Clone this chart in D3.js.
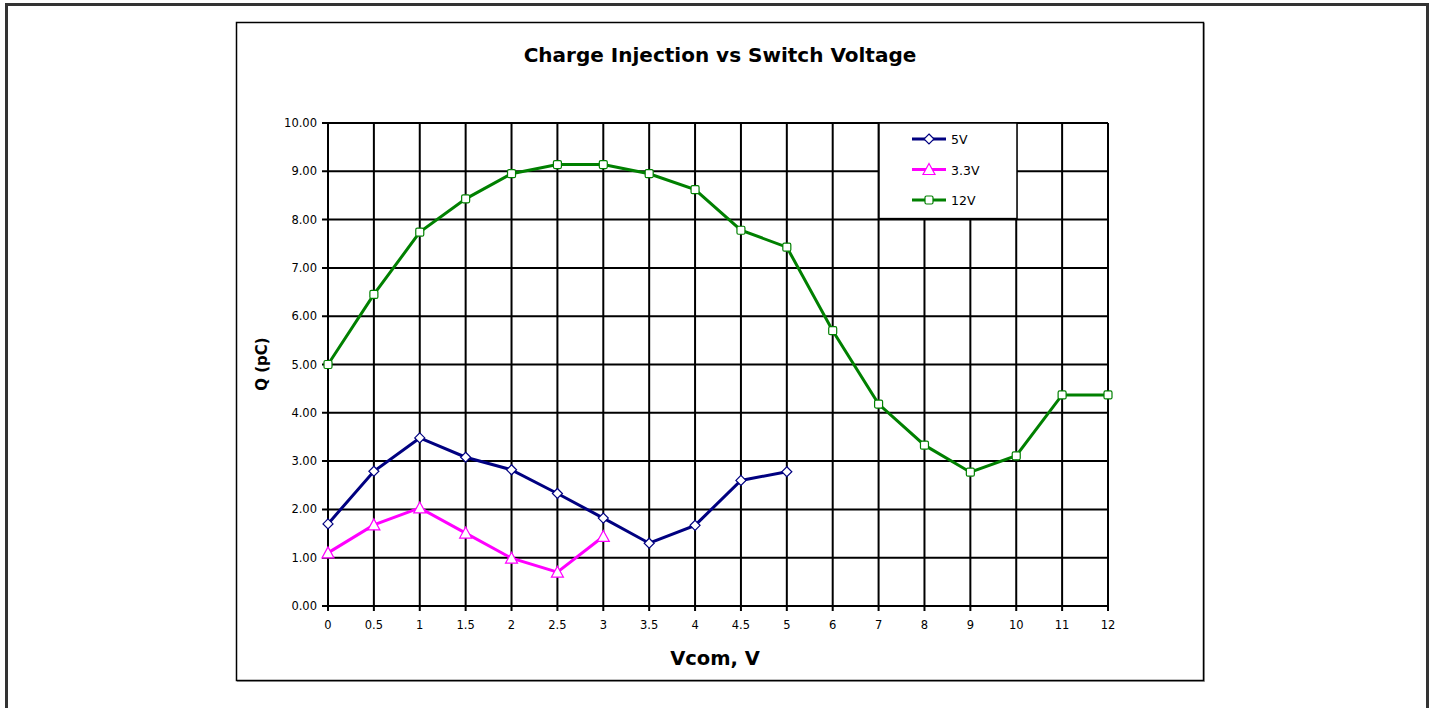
<!DOCTYPE html>
<html>
<head>
<meta charset="utf-8">
<script src="https://cdnjs.cloudflare.com/ajax/libs/d3/7.8.5/d3.min.js"></script>
<style>
  body { margin: 0; background: #fff; }
  svg { display: block; font-family: "DejaVu Sans", Verdana, sans-serif; }
</style>
</head>
<body>
<script>
// x categories (evenly spaced, not linear)
const categories = ["0", "0.5", "1", "1.5", "2", "2.5", "3", "3.5", "4", "4.5", "5",
                    "6", "7", "8", "9", "10", "11", "12"];
const yTicks = [0, 1, 2, 3, 4, 5, 6, 7, 8, 9, 10];

const v5   = [1.70, 2.79, 3.48, 3.08, 2.82, 2.33, 1.82, 1.30, 1.67, 2.60, 2.78];
const v3_3 = [1.10, 1.68, 2.03, 1.51, 0.99, 0.70, 1.44];
const v12  = [5.00, 6.45, 7.74, 8.43, 8.95, 9.14, 9.14, 8.95, 8.62, 7.78, 7.43,
              5.70, 4.18, 3.33, 2.77, 3.11, 4.37, 4.37];

const series = [
  { name: "5V",   values: v5,   color: "#000080", marker: "diamond" },
  { name: "3.3V", values: v3_3, color: "#ff00ff", marker: "triangle" },
  { name: "12V",  values: v12,  color: "#008000", marker: "square" }
];

const W = 1432, H = 708;
const plot = { left: 328, right: 1108, top: 123, bottom: 606 };

const svg = d3.select("body").append("svg")
  .attr("width", W).attr("height", H);

// outer frame
svg.append("rect")
  .attr("x", 6.5).attr("y", 4.5).attr("width", 1421).attr("height", 720)
  .attr("fill", "none").attr("stroke", "#333").attr("stroke-width", 3);

// chart box
svg.append("rect")
  .attr("x", 237.5).attr("y", 23.5).attr("width", 967).attr("height", 658)
  .attr("fill", "none").attr("stroke", "#aaa").attr("stroke-width", 1);
svg.append("rect")
  .attr("x", 236.5).attr("y", 22.5).attr("width", 967).attr("height", 658)
  .attr("fill", "#fff").attr("stroke", "#000").attr("stroke-width", 1.5);

const x = d3.scalePoint().domain(categories).range([plot.left, plot.right]);
const y = d3.scaleLinear().domain([0, 10]).range([plot.bottom, plot.top]);

// grid
const grid = svg.append("g").attr("stroke", "#000").attr("stroke-width", 2);
grid.selectAll(".v").data(categories).enter().append("line")
  .attr("x1", d => x(d)).attr("x2", d => x(d))
  .attr("y1", plot.top).attr("y2", plot.bottom + 5);
grid.selectAll(".h").data(yTicks).enter().append("line")
  .attr("x1", plot.left - 6).attr("x2", plot.right)
  .attr("y1", d => y(d)).attr("y2", d => y(d));

// y tick labels
svg.append("g").selectAll("text").data(yTicks).enter().append("text")
  .attr("x", plot.left - 11).attr("y", d => y(d) + 4)
  .attr("text-anchor", "end")
  .attr("font-size", 11.5)
  .text(d => d.toFixed(2));

// x tick labels
svg.append("g").selectAll("text").data(categories).enter().append("text")
  .attr("x", d => x(d)).attr("y", plot.bottom + 23)
  .attr("text-anchor", "middle")
  .attr("font-size", 11.5)
  .text(d => d);

// titles
svg.append("text")
  .attr("x", 720).attr("y", 62)
  .attr("text-anchor", "middle").attr("font-weight", "bold").attr("font-size", 20)
  .text("Charge Injection vs Switch Voltage");

svg.append("text")
  .attr("x", 715).attr("y", 665)
  .attr("text-anchor", "middle").attr("font-weight", "bold").attr("font-size", 19.5)
  .text("Vcom, V");

svg.append("text")
  .attr("transform", "translate(267,364) rotate(-90)")
  .attr("text-anchor", "middle").attr("font-weight", "bold").attr("font-size", 15)
  .text("Q (pC)");

// markers
function drawMarker(g, type, color) {
  if (type === "diamond") {
    g.append("path").attr("d", "M0,-5L5,0L0,5L-5,0Z");
  } else if (type === "triangle") {
    g.append("path").attr("d", "M0,-6L6,5L-6,5Z");
  } else {
    g.append("rect").attr("x", -4).attr("y", -4).attr("width", 8).attr("height", 8)
      .attr("rx", 1.5);
  }
  g.selectAll("path,rect").attr("fill", "#fff").attr("stroke", color).attr("stroke-width", 1.2);
}

const line = d3.line().x((d, i) => x(categories[i])).y(d => y(d));

series.forEach(s => {
  svg.append("path")
    .datum(s.values)
    .attr("d", line)
    .attr("fill", "none")
    .attr("stroke", s.color)
    .attr("stroke-width", 3);
  s.values.forEach((v, i) => {
    const g = svg.append("g").attr("transform", `translate(${x(categories[i])},${y(v)})`);
    drawMarker(g, s.marker, s.color);
  });
});

// legend
const lg = svg.append("g");
lg.append("rect")
  .attr("x", 879).attr("y", y(10)).attr("width", 138).attr("height", y(8) - y(10) - 1)
  .attr("fill", "#fff").attr("stroke", "#000").attr("stroke-width", 1.5);
series.forEach((s, i) => {
  const yy = 139 + i * 30.5;
  lg.append("line")
    .attr("x1", 912).attr("x2", 946).attr("y1", yy).attr("y2", yy)
    .attr("stroke", s.color).attr("stroke-width", 3);
  const g = lg.append("g").attr("transform", `translate(929,${yy})`);
  drawMarker(g, s.marker, s.color);
  lg.append("text")
    .attr("x", 951).attr("y", yy + 5)
    .attr("font-size", 12.5)
    .text(s.name);
});
</script>
</body>
</html>
